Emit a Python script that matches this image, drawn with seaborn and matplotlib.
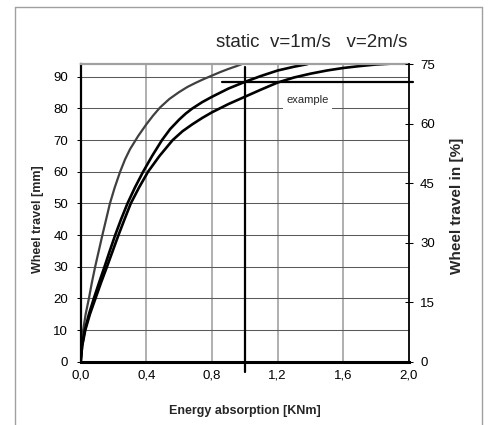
import matplotlib
matplotlib.use("Agg")
import matplotlib.pyplot as plt
from matplotlib.lines import Line2D
import seaborn as sns
import pandas as pd

# ---- data ----
static_energy = [0.0, 0.005, 0.015, 0.03, 0.05, 0.068, 0.088, 0.11, 0.132, 0.155, 0.178, 0.207,
                 0.24, 0.27, 0.30, 0.35, 0.40, 0.44, 0.483, 0.54, 0.60, 0.65, 0.70, 0.75, 0.80,
                 0.85, 0.90, 0.95, 0.98]
static_travel = [0, 4, 10, 15, 20, 25, 30, 35, 40, 45, 50, 55,
                 60, 63.9, 67.1, 71.3, 75.0, 77.7, 80.3, 83.0, 85.2, 86.8, 88.1, 89.3, 90.4,
                 91.5, 92.5, 93.4, 94.0]

v1_energy = [0.0, 0.008, 0.025, 0.05, 0.08, 0.112, 0.145, 0.177, 0.21, 0.246, 0.285, 0.33,
             0.38, 0.435, 0.495, 0.545, 0.60, 0.64, 0.68, 0.74, 0.80, 0.90, 1.0, 1.1, 1.2,
             1.3, 1.38]
v1_travel = [0, 5, 10, 15, 20, 25, 30, 35, 40, 45, 50, 55,
             60, 65, 70, 73.5, 76.5, 78.4, 80, 82, 83.7, 86.3, 88.4, 90.3, 92,
             93.2, 94]

v2_energy = [0.0, 0.009, 0.028, 0.056, 0.09, 0.124, 0.16, 0.195, 0.23, 0.267, 0.305, 0.355,
             0.41, 0.48, 0.56, 0.62, 0.68, 0.74, 0.80, 0.90, 1.0, 1.1, 1.2, 1.3, 1.4, 1.5,
             1.6, 1.7, 1.8, 1.9, 2.0]
v2_travel = [0, 5, 10, 15, 20, 25, 30, 35, 40, 45, 50, 55,
             60, 65, 70, 72.8, 75, 77, 78.8, 81.4, 83.7, 86.0, 88.2, 89.8, 91, 92,
             92.8, 93.4, 93.9, 94.2, 94.4]

x_ticks = [0.0, 0.4, 0.8, 1.2, 1.6, 2.0]
x_tick_labels = ["0,0", "0,4", "0,8", "1,2", "1,6", "2,0"]
y_ticks_mm = [0, 10, 20, 30, 40, 50, 60, 70, 80, 90]
y_ticks_pct = [0, 15, 30, 45, 60, 75]

example_energy = 1.0
example_travel = 88.4

title_text = "static  v=1m/s   v=2m/s"

# ---- build frames ----
df_static = pd.DataFrame({"energy": static_energy, "travel": static_travel})
df_v1 = pd.DataFrame({"energy": v1_energy, "travel": v1_travel})
df_v2 = pd.DataFrame({"energy": v2_energy, "travel": v2_travel})

sns.set_style("white")
plt.rcParams["font.family"] = ["Liberation Sans", "DejaVu Sans"]

fig = plt.figure(figsize=(4.88, 4.25), dpi=100)
ax = fig.add_axes([0.1654, 0.149, 0.6727, 0.700])

sns.lineplot(data=df_static, x="energy", y="travel", ax=ax, color="#404040",
             linewidth=1.6, sort=False, estimator=None)
sns.lineplot(data=df_v1, x="energy", y="travel", ax=ax, color="black",
             linewidth=1.9, sort=False, estimator=None)
sns.lineplot(data=df_v2, x="energy", y="travel", ax=ax, color="black",
             linewidth=1.9, sort=False, estimator=None)

ax.set_xlim(0, 2.0)
ax.set_ylim(0, 94)
ax.set_xticks(x_ticks)
ax.set_xticklabels(x_tick_labels)
ax.set_yticks(y_ticks_mm)
ax.set_yticklabels([str(v) for v in y_ticks_mm])

# grid
ax.grid(False)
for xv in x_ticks[1:-1]:
    ax.axvline(xv, color="#9a9a9a", linewidth=1.1, zorder=0.5)
for yv in y_ticks_mm[1:]:
    ax.axhline(yv, color="#5a5a5a", linewidth=0.75, zorder=0.5)

ax.tick_params(axis="x", length=0, pad=5.5, labelsize=9.5, colors="black")
ax.tick_params(axis="y", direction="out", length=3, width=0.75, pad=6,
               labelsize=9.5, colors="black", left=True)

ax.spines["left"].set_color("black")
ax.spines["left"].set_linewidth(1.6)
ax.spines["bottom"].set_color("black")
ax.spines["bottom"].set_linewidth(2.2)
ax.spines["top"].set_color("#a0a0a0")
ax.spines["top"].set_linewidth(1.6)
ax.spines["right"].set_visible(False)

ax.set_xlabel("Energy absorption [KNm]", fontsize=9, fontweight="bold", va="center")
ax.xaxis.set_label_coords(0.5, -0.1656)
ax.set_ylabel("Wheel travel [mm]", fontsize=9, fontweight="bold", va="center", ha="center")
ax.yaxis.set_label_coords(-0.13, 0.48)

# crosshair example
ax.plot([example_energy, example_energy], [-3.2, 93.2], color="black",
        linewidth=1.6, clip_on=False, zorder=4)
ax.plot([0.859, 2.024], [example_travel, example_travel], color="black",
        linewidth=1.6, clip_on=False, zorder=4)
ax.text(1.381, 82.6, "example", fontsize=8, ha="center", va="center", zorder=3,
        bbox=dict(facecolor="white", edgecolor="none", pad=2.5))

# right axis
ax2 = ax.twinx()
ax2.set_ylim(0, 75)
ax2.set_yticks(y_ticks_pct)
ax2.set_yticklabels([str(v) for v in y_ticks_pct])
ax2.tick_params(axis="y", direction="inout", length=6, width=0.75, pad=5,
                labelsize=9.5, colors="black", right=True)
for s in ["left", "top", "bottom"]:
    ax2.spines[s].set_visible(False)
ax2.spines["right"].set_color("black")
ax2.spines["right"].set_linewidth(1.3)
ax2.grid(False)
ax2.set_ylabel("Wheel travel in [%]", fontsize=11, fontweight="bold",
               rotation=90, va="center", ha="center")
ax2.yaxis.set_label_coords(1.146, 0.5245)

# title over the curves
fig.text(216 / 488, 1 - 46.7 / 425, title_text, fontsize=13.5, ha="left", va="baseline")

# figure frame (left, top, right)
fc = "#a0a0a0"
fig.add_artist(Line2D([15 / 488, 15 / 488], [0, 1 - 7 / 425], color=fc, linewidth=1.0))
fig.add_artist(Line2D([15 / 488, 482 / 488], [1 - 7 / 425, 1 - 7 / 425], color=fc, linewidth=1.0))
fig.add_artist(Line2D([482 / 488, 482 / 488], [0, 1 - 7 / 425], color=fc, linewidth=1.0))

fig.savefig("out.png", dpi=100, facecolor="white")
